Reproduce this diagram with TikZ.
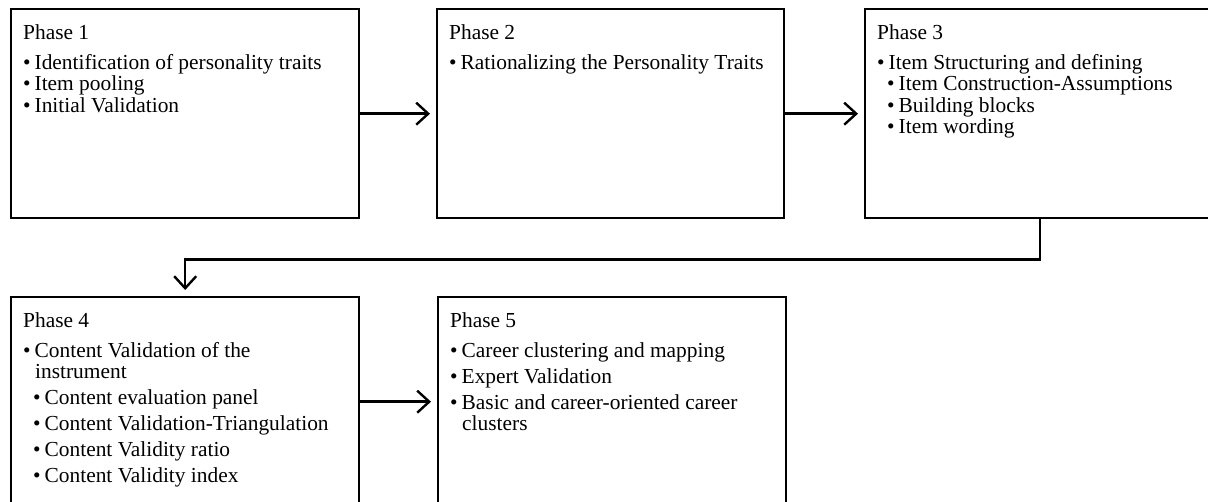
\documentclass[tikz,border=0pt]{standalone}
\usepackage{fontspec}
\setmainfont{Liberation Serif}
\usetikzlibrary{positioning,arrows.meta}

\newcommand{\phasetext}[3]{\parbox[t][209pt][t]{#1}{\fontsize{21.4}{21.5}\selectfont\raggedright\leftskip=12pt\parskip=#2 #3}}
\newcommand{\head}[2]{\rule{0pt}{30pt}#1\par\vspace{#2}}
\newcommand{\itm}[1]{\par\hangindent=12pt\hangafter=1\textbullet\hspace{4pt}#1}
\newcommand{\subitm}[1]{\par\hangindent=22pt\hangafter=1\hspace*{10pt}\textbullet\hspace{4pt}#1}

\begin{document}
\begin{tikzpicture}[x=1pt,y=1pt,
  phase/.style={draw,line width=2.4pt,inner sep=0pt,anchor=north west},
  link/.style={line width=2.4pt,-{Straight Barb[length=12pt,width=22pt]},shorten >=6pt}]
\useasboundingbox (0,0) rectangle (1208,-502);
\node[phase] (p1) at (10,-8) {\phasetext{348pt}{0pt}{\head{Phase 1}{8.5pt}
  \itm{Identification of personality traits}
  \itm{Item pooling}
  \itm{Initial Validation}}};
\node[phase] (p2) at (436,-8) {\phasetext{347pt}{0pt}{\head{Phase 2}{8.5pt}
  \itm{Rationalizing the Personality Traits}}};
\node[phase] (p3) at (864,-8) {\phasetext{350pt}{0pt}{\head{Phase 3}{8.5pt}
  \itm{Item Structuring and defining}
  \subitm{Item Construction-Assumptions}
  \subitm{Building blocks}
  \subitm{Item wording}}};
\node[phase] (p4) at (10,-296) {\phasetext{348pt}{4.5pt}{\head{Phase 4}{4pt}
  \itm{Content Validation of the\newline instrument}
  \subitm{Content evaluation panel}
  \subitm{Content Validation-Triangulation}
  \subitm{Content Validity ratio}
  \subitm{Content Validity index}}};
\node[phase] (p5) at (437,-296) {\phasetext{348pt}{4.5pt}{\head{Phase 5}{4pt}
  \itm{Career clustering and mapping}
  \itm{Expert Validation}
  \itm{Basic and career-oriented career\newline clusters}}};
% connectors
\draw[link] (p1) -- (p2);
\draw[link] (p2) -- (p3);
\draw[link] (p3.south) -- ++(0,-40) -| (p4.north);
\draw[link] (p4) -- (p5);
\end{tikzpicture}
\end{document}
